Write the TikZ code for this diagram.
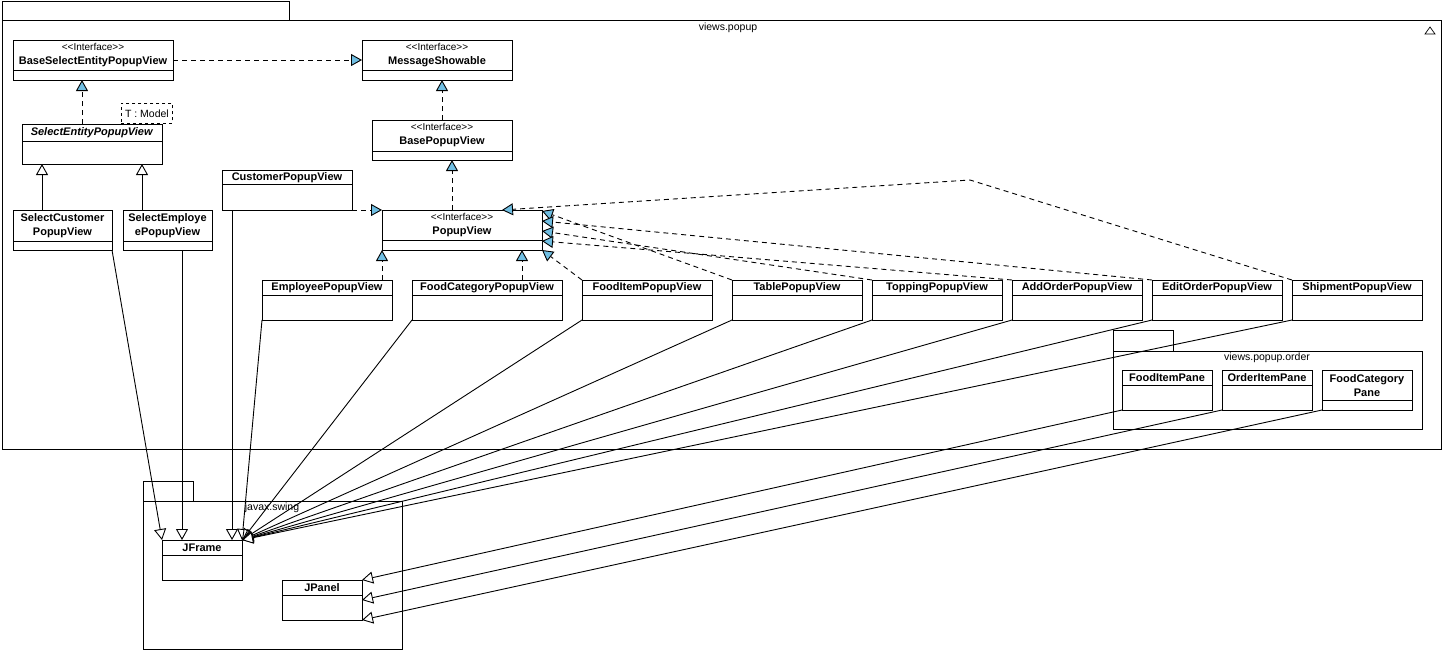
\documentclass[tikz,border=0pt]{standalone}
\usepackage{fontspec}
\setmainfont{Liberation Sans}
\usepackage{tikz}
\usetikzlibrary{arrows.meta}
\definecolor{ifblue}{RGB}{112,190,226}

\newcommand{\stereo}{{\mdseries\fontsize{10}{14}\selectfont<\kern0pt<Interface>\kern0pt>}}
\newcommand{\umlclass}[7]{%
  \node[classbox,minimum width=#4pt,minimum height=#5pt] (#1) at (#2,#3) {};
  \draw (#1.north west) ++(0,#6) -- ++(#4,0);
  \path (#1.north west) ++(0.5*#4,0.5*#6) node[classname] (#1-name) {#7};
}

\begin{document}
\begin{tikzpicture}[x=1pt,y=-1pt,line width=0.9pt,
  classbox/.style={draw,fill=white,anchor=north west,inner sep=0pt,outer sep=0pt},
  classname/.style={font=\fontsize{11}{14}\selectfont\bfseries,align=center,inner sep=0pt},
  pkglabel/.style={font=\fontsize{10.5}{12}\selectfont,inner sep=0pt},
  realize/.style={dash pattern=on 5pt off 4pt,-{Triangle[length=11pt,width=12pt,fill=ifblue]}},
  inherit/.style={-{Triangle[length=11pt,width=12pt,fill=white]}}]
\useasboundingbox (0,0) rectangle (1446,654);

\draw (2,1) rectangle (289,20);
\draw (2,20) rectangle (1441,449);
\node[pkglabel] (popuplbl) at (728,28) {views.popup};
\draw[line width=0.7pt] (1425,34) -- (1430,27) -- (1435,34) -- cycle;

\draw (1113,330) rectangle (1173,351);
\draw (1113,351) rectangle (1422,429);
\node[pkglabel] (orderlbl) at (1267,358) {views.popup.order};

\draw (143,481) rectangle (193,501);
\draw (143,501) rectangle (402,649);
\node[pkglabel] (swinglbl) at (272,508) {javax.swing};

\umlclass{basesel}{13}{40}{160}{40}{30}{\stereo\\BaseSelectEntityPopupView}
\umlclass{msg}{362}{40}{150}{40}{30}{\stereo\\MessageShowable}
\umlclass{basepop}{372}{120}{140}{40}{31}{\stereo\\BasePopupView}
\umlclass{selent}{22}{124}{140}{40}{17}{\textit{SelectEntityPopupView}}
\node[draw,dashed,fill=white,anchor=north west,minimum width=51pt,minimum height=20pt,
  inner sep=0pt,font=\fontsize{10.5}{12}\selectfont] (tparam) at (121,103) {T : Model};
\umlclass{selcust}{13}{210}{99}{40}{31}{SelectCustomer\\PopupView}
\umlclass{selemp}{123}{210}{89}{40}{31}{SelectEmploye\\ePopupView}
\umlclass{custpop}{222}{170}{130}{40}{14.5}{CustomerPopupView}
\umlclass{popup}{382}{210}{160}{40}{30.5}{\stereo\\PopupView}
\umlclass{emp}{262}{280}{130}{40}{15.5}{EmployeePopupView}
\umlclass{fcat}{412}{280}{150}{40}{15.5}{FoodCategoryPopupView}
\umlclass{fitem}{582}{280}{130}{40}{15.5}{FoodItemPopupView}
\umlclass{table}{732}{280}{130}{40}{15.5}{TablePopupView}
\umlclass{topping}{872}{280}{130}{40}{15.5}{ToppingPopupView}
\umlclass{addord}{1012}{280}{130}{40}{15.5}{AddOrderPopupView}
\umlclass{editord}{1152}{280}{130}{40}{15.5}{EditOrderPopupView}
\umlclass{ship}{1292}{280}{130}{40}{15.5}{ShipmentPopupView}
\umlclass{fipane}{1122}{370}{90}{40}{15}{FoodItemPane}
\umlclass{oipane}{1222}{370}{90}{40}{15}{OrderItemPane}
\umlclass{fcpane}{1322}{370}{90}{40}{30.5}{FoodCategory\\Pane}
\umlclass{jframe}{162}{540}{80}{40}{15}{JFrame}
\umlclass{jpanel}{282}{580}{80}{40}{15}{JPanel}

\draw[realize] (basesel.east) -- (msg.west);
\draw[realize] ([xshift=60pt]selent.north west) -- ([xshift=69pt]basesel.south west);
\draw[inherit] ([xshift=29pt]selcust.north west) -- ([xshift=20pt]selent.south west);
\draw[inherit] ([xshift=19pt]selemp.north west) -- ([xshift=120pt]selent.south west);
\draw[realize] (basepop.north) -- ([xshift=80pt]msg.south west);
\draw[realize] ([xshift=70pt]popup.north west) -- ([xshift=80pt]basepop.south west);
\draw[realize] (custpop.south east) -- (popup.north west);
\draw[realize] ([xshift=120pt]emp.north west) -- (popup.south west);
\draw[realize] ([xshift=110pt]fcat.north west) -- ([xshift=140pt]popup.south west);
\draw[realize] (fitem.north west) -- (popup.south east);
\draw[realize] (table.north west) -- ([yshift=-1pt]popup.north east);
\draw[realize] (editord.north west) -- ([yshift=-11pt]popup.north east);
\draw[realize] (topping.north west) -- ([yshift=-21pt]popup.north east);
\draw[realize] (addord.north west) -- ([yshift=-31pt]popup.north east);
\coordinate (bend) at (970,180);
\draw[realize] (ship.north west) -- (bend) -- ([xshift=120pt]popup.north west);

\draw[inherit] (selcust.south east) -- (jframe.north west);
\draw[inherit] ([xshift=59pt]selemp.south west) -- ([xshift=20pt]jframe.north west);
\draw[inherit] ([xshift=10pt]custpop.south west) -- ([xshift=70pt]jframe.north west);
\foreach \src in {emp,fcat,fitem,table,topping,addord,editord,ship}
  \draw[inherit] (\src.south west) -- (jframe.north east);
\draw[inherit] (fipane.south west) -- (jpanel.north east);
\draw[inherit] (oipane.south west) -- (jpanel.east);
\draw[inherit] (fcpane.south west) -- (jpanel.south east);
\end{tikzpicture}
\end{document}
